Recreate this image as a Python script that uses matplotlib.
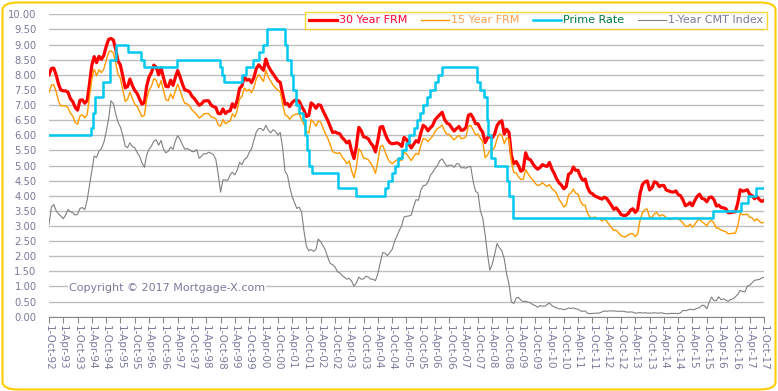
import pandas as pd
import matplotlib.pyplot as plt
from matplotlib.patches import FancyBboxPatch

plt.rcParams['font.family'] = ['DejaVu Sans']

# monthly readings, Oct 1992 .. Oct 2017
frm30 = [8.00, 8.21, 8.22,
         7.99, 7.68, 7.50, 7.47, 7.47, 7.42, 7.21, 7.11, 6.92, 6.83, 7.16, 7.17,
         7.06, 7.15, 7.68, 8.32, 8.60, 8.40, 8.61, 8.51, 8.64, 8.93, 9.17, 9.20,
         9.15, 8.83, 8.46, 8.32, 7.96, 7.57, 7.61, 7.86, 7.64, 7.48, 7.38, 7.20,
         7.03, 7.08, 7.62, 7.93, 8.07, 8.32, 8.25, 8.00, 8.23, 7.92, 7.62, 7.60,
         7.82, 7.65, 7.90, 8.14, 7.94, 7.69, 7.50, 7.48, 7.43, 7.29, 7.21, 7.10,
         6.99, 7.04, 7.13, 7.14, 7.14, 7.00, 6.95, 6.92, 6.72, 6.71, 6.87, 6.72,
         6.79, 6.81, 7.04, 6.92, 7.15, 7.55, 7.63, 7.94, 7.82, 7.85, 7.74, 7.91,
         8.21, 8.33, 8.24, 8.15, 8.52, 8.29, 8.15, 8.03, 7.91, 7.80, 7.75, 7.38,
         7.03, 7.05, 6.95, 7.08, 7.15, 7.16, 7.13, 6.95, 6.82, 6.62, 6.66, 7.07,
         7.00, 6.89, 7.01, 6.99, 6.81, 6.65, 6.49, 6.29, 6.09, 6.11, 6.07, 6.05,
         5.92, 5.84, 5.75, 5.81, 5.48, 5.23, 5.63, 6.26, 6.15, 5.95, 5.93, 5.88,
         5.74, 5.64, 5.45, 5.83, 6.27, 6.29, 6.06, 5.87, 5.75, 5.72, 5.73, 5.75,
         5.71, 5.63, 5.93, 5.86, 5.72, 5.58, 5.70, 5.82, 5.77, 6.07, 6.33, 6.27,
         6.15, 6.25, 6.32, 6.51, 6.60, 6.68, 6.76, 6.52, 6.40, 6.36, 6.24, 6.14,
         6.22, 6.29, 6.16, 6.18, 6.26, 6.66, 6.70, 6.57, 6.38, 6.38, 6.21, 6.10,
         5.76, 5.92, 5.97, 5.92, 6.04, 6.32, 6.43, 6.48, 6.04, 6.20, 6.09, 5.33,
         5.06, 5.13, 5.00, 4.81, 4.86, 5.42, 5.22, 5.19, 5.06, 4.95, 4.88, 4.93,
         5.03, 4.99, 4.97, 5.10, 4.89, 4.74, 4.56, 4.43, 4.35, 4.23, 4.30, 4.71,
         4.76, 4.95, 4.84, 4.84, 4.64, 4.51, 4.55, 4.27, 4.11, 4.07, 3.99, 3.96,
         3.92, 3.89, 3.95, 3.91, 3.80, 3.68, 3.55, 3.60, 3.50, 3.38, 3.35, 3.35,
         3.41, 3.53, 3.57, 3.45, 3.54, 4.07, 4.37, 4.46, 4.49, 4.19, 4.26, 4.46,
         4.43, 4.30, 4.34, 4.34, 4.19, 4.16, 4.13, 4.12, 4.16, 4.04, 4.00, 3.86,
         3.67, 3.71, 3.77, 3.67, 3.84, 3.98, 4.05, 3.91, 3.89, 3.80, 3.94, 3.96,
         3.87, 3.66, 3.69, 3.61, 3.60, 3.57, 3.44, 3.44, 3.46, 3.47, 3.77, 4.20,
         4.15, 4.17, 4.20, 4.05, 4.01, 3.90, 3.97, 3.88, 3.81, 3.85]

frm15 = [7.42, 7.66, 7.67,
         7.44, 7.12, 6.97, 6.98, 6.97, 6.91, 6.73, 6.63, 6.42, 6.37, 6.64, 6.68,
         6.58, 6.69, 7.23, 7.85, 8.18, 7.97, 8.17, 8.07, 8.19, 8.47, 8.75, 8.79,
         8.72, 8.38, 8.02, 7.88, 7.50, 7.12, 7.19, 7.43, 7.21, 7.04, 6.95, 6.79,
         6.62, 6.66, 7.18, 7.49, 7.62, 7.87, 7.82, 7.57, 7.81, 7.50, 7.18, 7.14,
         7.37, 7.21, 7.46, 7.69, 7.49, 7.25, 7.05, 7.04, 6.97, 6.84, 6.76, 6.68,
         6.57, 6.62, 6.71, 6.72, 6.72, 6.61, 6.59, 6.55, 6.34, 6.30, 6.52, 6.38,
         6.44, 6.47, 6.71, 6.60, 6.82, 7.20, 7.28, 7.56, 7.46, 7.52, 7.41, 7.57,
         7.87, 8.01, 7.90, 7.78, 8.14, 7.92, 7.80, 7.66, 7.57, 7.49, 7.44, 7.04,
         6.68, 6.63, 6.53, 6.63, 6.68, 6.70, 6.70, 6.51, 6.36, 6.12, 6.07, 6.51,
         6.43, 6.30, 6.47, 6.44, 6.24, 6.05, 5.90, 5.69, 5.46, 5.42, 5.40, 5.42,
         5.28, 5.18, 5.06, 5.15, 4.83, 4.60, 4.94, 5.55, 5.45, 5.24, 5.23, 5.19,
         5.08, 4.94, 4.74, 5.16, 5.62, 5.67, 5.46, 5.25, 5.12, 5.06, 5.13, 5.19,
         5.18, 5.17, 5.44, 5.38, 5.28, 5.16, 5.29, 5.40, 5.36, 5.66, 5.89, 5.87,
         5.79, 5.89, 5.97, 6.13, 6.22, 6.27, 6.34, 6.14, 6.03, 6.03, 5.92, 5.85,
         5.93, 6.00, 5.89, 5.90, 5.96, 6.30, 6.32, 6.18, 6.01, 6.04, 5.90, 5.79,
         5.26, 5.35, 5.50, 5.50, 5.60, 5.88, 6.04, 6.00, 5.72, 5.91, 5.87, 5.12,
         4.77, 4.75, 4.63, 4.54, 4.54, 4.86, 4.73, 4.61, 4.52, 4.41, 4.34, 4.36,
         4.43, 4.36, 4.31, 4.37, 4.24, 4.17, 4.08, 3.88, 3.77, 3.63, 3.69, 4.03,
         4.09, 4.22, 4.08, 4.06, 3.82, 3.69, 3.69, 3.42, 3.29, 3.26, 3.30, 3.23,
         3.24, 3.16, 3.23, 3.16, 3.05, 2.94, 2.85, 2.86, 2.77, 2.68, 2.65, 2.64,
         2.70, 2.75, 2.74, 2.65, 2.73, 3.19, 3.43, 3.54, 3.56, 3.28, 3.29, 3.40,
         3.45, 3.32, 3.37, 3.35, 3.27, 3.22, 3.22, 3.24, 3.27, 3.23, 3.18, 3.10,
         2.99, 2.99, 3.06, 2.96, 3.05, 3.17, 3.22, 3.14, 3.08, 3.00, 3.14, 3.18,
         3.09, 2.93, 2.93, 2.86, 2.84, 2.81, 2.74, 2.75, 2.76, 2.76, 3.02, 3.42,
         3.37, 3.38, 3.39, 3.29, 3.27, 3.17, 3.24, 3.16, 3.10, 3.12]

cmt1 = [3.05, 3.63, 3.71,
        3.50, 3.39, 3.33, 3.24, 3.36, 3.54, 3.47, 3.44, 3.36, 3.39, 3.58, 3.61,
        3.54, 3.87, 4.32, 4.82, 5.31, 5.27, 5.48, 5.56, 5.76, 6.11, 6.54, 7.14,
        7.05, 6.70, 6.43, 6.27, 6.00, 5.64, 5.59, 5.75, 5.62, 5.59, 5.43, 5.31,
        5.09, 4.94, 5.34, 5.54, 5.64, 5.81, 5.85, 5.67, 5.83, 5.55, 5.42, 5.47,
        5.61, 5.53, 5.80, 5.99, 5.87, 5.69, 5.54, 5.56, 5.52, 5.46, 5.46, 5.53,
        5.24, 5.31, 5.39, 5.38, 5.44, 5.41, 5.36, 5.21, 4.71, 4.12, 4.53, 4.52,
        4.51, 4.70, 4.78, 4.69, 4.85, 5.10, 5.03, 5.20, 5.25, 5.43, 5.55, 5.84,
        6.12, 6.22, 6.22, 6.15, 6.33, 6.17, 6.08, 6.18, 6.13, 6.01, 6.09, 5.60,
        4.81, 4.68, 4.30, 3.98, 3.78, 3.58, 3.62, 3.47, 2.82, 2.33, 2.18, 2.22,
        2.16, 2.23, 2.57, 2.48, 2.35, 2.20, 1.96, 1.76, 1.72, 1.65, 1.49, 1.45,
        1.36, 1.30, 1.24, 1.27, 1.18, 1.01, 1.12, 1.31, 1.24, 1.25, 1.34, 1.31,
        1.24, 1.24, 1.19, 1.43, 1.78, 2.12, 2.10, 2.02, 2.12, 2.23, 2.50, 2.67,
        2.86, 3.03, 3.30, 3.32, 3.33, 3.36, 3.64, 3.87, 3.85, 4.18, 4.33, 4.35,
        4.45, 4.68, 4.77, 4.90, 5.00, 5.16, 5.22, 5.08, 4.97, 5.01, 5.01, 4.94,
        5.06, 5.05, 4.92, 4.93, 4.91, 4.96, 4.96, 4.47, 4.14, 4.10, 3.50, 3.26,
        2.71, 2.05, 1.54, 1.74, 2.06, 2.42, 2.28, 2.18, 1.91, 1.42, 1.07, 0.49,
        0.44, 0.62, 0.64, 0.55, 0.50, 0.51, 0.48, 0.46, 0.40, 0.37, 0.31, 0.37,
        0.35, 0.35, 0.40, 0.45, 0.37, 0.32, 0.29, 0.26, 0.26, 0.23, 0.25, 0.29,
        0.27, 0.29, 0.26, 0.25, 0.19, 0.18, 0.19, 0.11, 0.10, 0.11, 0.11, 0.12,
        0.12, 0.16, 0.19, 0.18, 0.19, 0.19, 0.19, 0.18, 0.18, 0.18, 0.18, 0.16,
        0.15, 0.16, 0.15, 0.12, 0.12, 0.14, 0.12, 0.13, 0.12, 0.12, 0.12, 0.13,
        0.12, 0.12, 0.13, 0.11, 0.10, 0.10, 0.11, 0.11, 0.11, 0.10, 0.13, 0.21,
        0.20, 0.22, 0.25, 0.23, 0.24, 0.28, 0.30, 0.38, 0.37, 0.26, 0.48, 0.65,
        0.54, 0.53, 0.66, 0.56, 0.59, 0.55, 0.51, 0.57, 0.59, 0.66, 0.74, 0.87,
        0.83, 0.82, 1.01, 1.04, 1.12, 1.20, 1.22, 1.23, 1.28, 1.30]

prime_dates = ['1992-10-01', '1994-03-24', '1994-04-19', '1994-05-17', '1994-08-16',
               '1994-11-15', '1995-02-01', '1995-07-07', '1995-12-20', '1996-02-01',
               '1997-03-26', '1998-09-30', '1998-10-16', '1998-11-18', '1999-07-01',
               '1999-08-25', '1999-11-17', '2000-02-03', '2000-03-22', '2000-05-17',
               '2001-01-04', '2001-02-01', '2001-03-21', '2001-04-19', '2001-05-16',
               '2001-06-28', '2001-08-22', '2001-09-18', '2001-10-03', '2001-11-07',
               '2001-12-12', '2002-11-07', '2003-06-26', '2004-07-01', '2004-08-11',
               '2004-09-22', '2004-11-11', '2004-12-15', '2005-02-03', '2005-03-23',
               '2005-05-04', '2005-07-01', '2005-08-10', '2005-09-21', '2005-11-02',
               '2005-12-14', '2006-02-01', '2006-03-29', '2006-05-11', '2006-06-30',
               '2007-09-19', '2007-11-01', '2007-12-12', '2008-01-22', '2008-01-31',
               '2008-03-19', '2008-05-01', '2008-10-09', '2008-10-30', '2008-12-17',
               '2015-12-17', '2016-12-15', '2017-03-16', '2017-06-15', '2017-10-01']
prime_rate = [6.00, 6.25, 6.75, 7.25, 7.75, 8.50, 9.00, 8.75, 8.50, 8.25,
              8.50, 8.25, 8.00, 7.75, 8.00, 8.25, 8.50, 8.75, 9.00, 9.50,
              9.00, 8.50, 8.00, 7.50, 7.00, 6.75, 6.50, 6.00, 5.50, 5.00,
              4.75, 4.25, 4.00, 4.25, 4.50, 4.75, 5.00, 5.25, 5.50, 5.75,
              6.00, 6.25, 6.50, 6.75, 7.00, 7.25, 7.50, 7.75, 8.00, 8.25,
              7.75, 7.50, 7.25, 6.50, 6.00, 5.25, 5.00, 4.50, 4.00, 3.25,
              3.50, 3.75, 4.00, 4.25, 4.25]

months = pd.date_range('1992-10-01', '2017-10-01', freq='MS')
prime_x = pd.to_datetime(prime_dates)
tick_dates = pd.date_range('1992-10-01', '2017-10-01', freq='6MS')
tick_labels = [f"{d.day}-{d.strftime('%b-%y')}" for d in tick_dates]

label_col = '#7a7a9c'
grid_col = '#bdbdbd'

fig = plt.figure(figsize=(7.78, 3.91), dpi=100)
ax = fig.add_axes([49 / 778, 1 - 316.7 / 391, (764 - 49) / 778, (316.7 - 14.3) / 391])

l1, = ax.plot(months, frm30, color='#ff0000', lw=2.3, label='30 Year FRM')
l2, = ax.plot(months, frm15, color='#ff9900', lw=1.0, label='15 Year FRM')
l3, = ax.step(prime_x, prime_rate, where='post', color='#00c8f0', lw=1.8, label='Prime Rate')
l4, = ax.plot(months, cmt1, color='#808080', lw=0.8, label='1-Year CMT Index')

ax.set_ylim(0, 10)
ax.set_yticks([i * 0.5 for i in range(21)])
ax.set_yticklabels([f'{i * 0.5:.2f}' for i in range(21)])
ax.set_xlim(months[0], months[-1])
ax.set_xticks(tick_dates)
ax.set_xticklabels(tick_labels, rotation=270)
ax.grid(axis='y', color=grid_col, lw=1.0)
ax.set_axisbelow(True)
for s in ['left', 'right', 'top']:
    ax.spines[s].set_visible(False)
ax.spines['bottom'].set_color('#888888')
ax.tick_params(axis='y', length=0, pad=9, labelsize=7.2, labelcolor=label_col)
ax.tick_params(axis='x', length=4, color='#888888', pad=2, labelsize=7.5, labelcolor=label_col)

ax.text(69 / 778, 1 - 288 / 391, 'Copyright \u00a9 2017 Mortgage-X.com', transform=fig.transFigure,
        fontsize=8, color=label_col, va='center', ha='left',
        bbox=dict(facecolor='white', edgecolor='none', pad=1))

leg = fig.legend(handles=[l1, l2, l3, l4], loc='upper right', bbox_to_anchor=(773 / 778, 1 - 6 / 391),
                 ncol=4, fontsize=8, frameon=True, fancybox=False, handlelength=2.5,
                 handletextpad=0.2, columnspacing=1.25, borderpad=0.35)
leg.get_frame().set_edgecolor('#ffcc00')
leg.get_frame().set_linewidth(1.0)
for txt, c in zip(leg.get_texts(), ['#ff0033', '#ffa050', '#007a40', label_col]):
    txt.set_color(c)

border = FancyBboxPatch((2.5 / 778, 1.5 / 391), 773 / 778, 387 / 391, transform=fig.transFigure,
                        boxstyle='round,pad=0,rounding_size=0.02', fill=False,
                        edgecolor='#ffcc00', lw=1.5)
fig.patches.append(border)

plt.savefig('out.png', dpi=100)
plt.close()
